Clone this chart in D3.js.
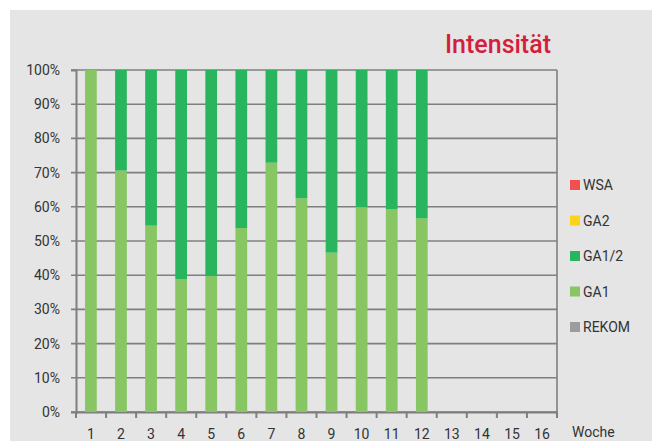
<!DOCTYPE html>
<html>
<head>
<meta charset="utf-8">
<script src="https://cdn.jsdelivr.net/npm/d3@7"></script>
<style>
  body { margin: 0; background: #fff; }
  text { font-family: Roboto, "DejaVu Sans", sans-serif; }
</style>
</head>
<body>
<svg id="chart"></svg>
<script>
// weeks on the x axis
const weeks = ["1", "2", "3", "4", "5", "6", "7", "8", "9", "10", "11", "12", "13", "14", "15", "16"];
// share of GA1 and GA1/2 per week (%), weeks 13-16 empty
const ga1 = [100, 70.6, 54.5, 38.9, 39.8, 53.8, 72.9, 62.5, 46.6, 59.9, 59.3, 56.6, null, null, null, null];
const ga12 = [0, 29.4, 45.5, 61.1, 60.2, 46.2, 27.1, 37.5, 53.4, 40.1, 40.7, 43.4, null, null, null, null];
const yTicks = [0, 10, 20, 30, 40, 50, 60, 70, 80, 90, 100];
const legendLabels = ["WSA", "GA2", "GA1/2", "GA1", "REKOM"];
const legendColors = ["#f0504f", "#fdd21b", "#29b45e", "#88c663", "#9c9c9c"];

const width = 652, height = 441;
const margin = { top: 70, right: 95, bottom: 29, left: 76 };

const svg = d3.select("#chart")
    .attr("width", width)
    .attr("height", height);

// grey panel
svg.append("rect")
    .attr("x", 10).attr("y", 10)
    .attr("width", width - 10).attr("height", height - 10)
    .attr("fill", "#e5e5e5");

svg.append("text")
    .attr("x", 551).attr("y", 53)
    .attr("text-anchor", "end")
    .style("font-size", "25px")
    .style("font-weight", 500)
    .attr("fill", "#d41f3c")
    .text("Intensität");

const x = d3.scaleBand()
    .domain(weeks)
    .range([margin.left, width - margin.right])
    .paddingInner(0.61)
    .paddingOuter(0.3);

const y = d3.scaleLinear()
    .domain([0, 100])
    .range([height - margin.bottom, margin.top]);

const gridColor = "#7f7f7f";

// horizontal grid
svg.append("g")
    .selectAll("line")
    .data(yTicks)
    .join("line")
    .attr("x1", margin.left - 5)
    .attr("x2", width - margin.right)
    .attr("y1", d => y(d))
    .attr("y2", d => y(d))
    .attr("stroke", gridColor)
    .attr("stroke-width", 1.6);

// right border
svg.append("line")
    .attr("x1", width - margin.right).attr("x2", width - margin.right)
    .attr("y1", y(100)).attr("y2", y(0))
    .attr("stroke", gridColor).attr("stroke-width", 1.6);

// y axis
const yAxis = svg.append("g")
    .attr("transform", `translate(${margin.left},0)`)
    .call(d3.axisLeft(y).tickValues(yTicks).tickFormat(d => d + "%").tickSize(5).tickPadding(11));
yAxis.select(".domain").attr("stroke", gridColor).attr("stroke-width", 2);
yAxis.selectAll(".tick line").attr("stroke", "none");
yAxis.selectAll("text").style("font-size", "14px").attr("fill", "#333");

// x axis
const xAxis = svg.append("g")
    .attr("transform", `translate(0,${y(0)})`)
    .call(d3.axisBottom(x).tickSize(0).tickPadding(17));
xAxis.select(".domain").attr("stroke", gridColor).attr("stroke-width", 2);
xAxis.selectAll("text").style("font-size", "14px").attr("fill", "#333");

// small ticks between the weeks
svg.append("g")
    .selectAll("line")
    .data(d3.range(weeks.length + 1))
    .join("line")
    .attr("x1", i => margin.left + i * (width - margin.right - margin.left) / weeks.length)
    .attr("x2", i => margin.left + i * (width - margin.right - margin.left) / weeks.length)
    .attr("y1", y(0))
    .attr("y2", y(0) + 6)
    .attr("stroke", gridColor)
    .attr("stroke-width", 2);

svg.append("text")
    .attr("x", 572).attr("y", 437)
    .style("font-size", "14px")
    .attr("fill", "#333")
    .text("Woche");

// bars
const rows = weeks.map((w, i) => ({ week: w, ga1: ga1[i], ga12: ga12[i] }))
    .filter(d => d.ga1 !== null);

const bars = svg.append("g");
bars.selectAll(".ga1")
    .data(rows)
    .join("rect")
    .attr("class", "ga1")
    .attr("x", d => x(d.week))
    .attr("width", x.bandwidth())
    .attr("y", d => y(d.ga1))
    .attr("height", d => y(0) - y(d.ga1))
    .attr("fill", legendColors[3]);

bars.selectAll(".ga12")
    .data(rows.filter(d => d.ga12 > 0))
    .join("rect")
    .attr("class", "ga12")
    .attr("x", d => x(d.week))
    .attr("width", x.bandwidth())
    .attr("y", d => y(d.ga1 + d.ga12))
    .attr("height", d => y(d.ga1) - y(d.ga1 + d.ga12))
    .attr("fill", legendColors[2]);

// legend
const legend = svg.append("g")
    .selectAll("g")
    .data(legendLabels)
    .join("g")
    .attr("transform", (d, i) => `translate(570,${185 + i * 35.5})`);

legend.append("rect")
    .attr("x", 0).attr("y", -5)
    .attr("width", 10).attr("height", 10)
    .attr("fill", (d, i) => legendColors[i]);

legend.append("text")
    .attr("x", 13).attr("y", 5)
    .style("font-size", "14px")
    .attr("fill", "#333")
    .text(d => d);
</script>
</body>
</html>
